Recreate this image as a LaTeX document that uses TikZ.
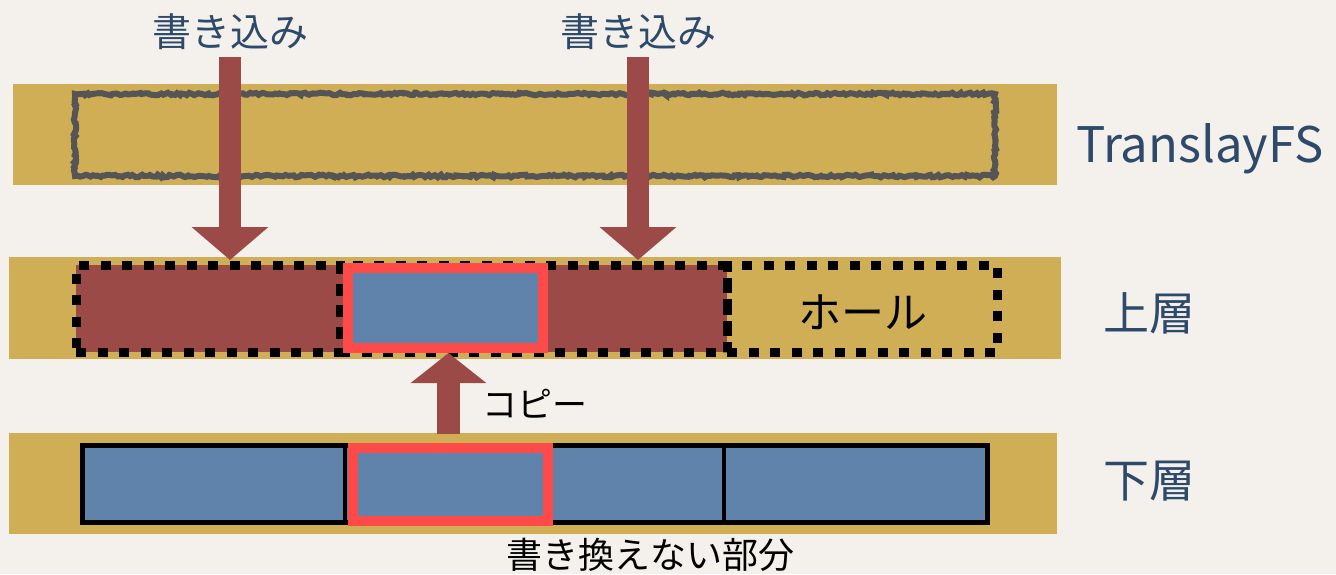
\documentclass[tikz,border=0pt]{standalone}
\usepackage{fontspec}
\setmainfont{Noto Sans CJK JP}
\usetikzlibrary{arrows.meta,decorations.pathmorphing}
\definecolor{bg}{HTML}{F4F1EC}
\definecolor{gold}{HTML}{CFAE55}
\definecolor{wine}{HTML}{9C4A48}
\definecolor{steel}{HTML}{5F83AA}
\definecolor{hot}{HTML}{FF4A4A}
\definecolor{ink}{HTML}{2E4A6A}
\definecolor{pencil}{HTML}{555555}
\begin{document}
\begin{tikzpicture}[x=1pt,y=-1pt,
  bar/.style={fill=gold, draw=none, inner sep=0pt, outer sep=0pt},
  rough/.style={draw=pencil, line width=6pt, inner sep=0pt, outer sep=0pt,
    decorate, decoration={random steps, segment length=2.5pt, amplitude=1.3pt}},
  dotbox/.style={draw=black, line width=9pt, dash pattern=on 10pt off 11.5pt, inner sep=0pt, outer sep=0pt},
  redfill/.style={fill=wine, draw=none, inner sep=0pt, outer sep=0pt},
  keep/.style={fill=steel, draw=hot, line width=10pt, inner sep=0pt},
  cell/.style={fill=steel, draw=black, line width=5pt, inner sep=0pt, outer sep=0pt},
  fat/.style={draw=wine, line width=22pt, -{Triangle[width=75pt,length=33pt]}},
  lbl/.style={text=ink, inner sep=0pt, font=\fontsize{39pt}{39pt}\selectfont},
  side/.style={text=ink, inner sep=0pt, font=\fontsize{46pt}{46pt}\selectfont},
  note/.style={text=black, inner sep=0pt},
]
\fill[bg] (0,0) rectangle (1336,574);
\useasboundingbox (0,0) rectangle (1336,574);

% layer bars
\node[bar, minimum width=1044pt, minimum height=101pt] (tbar) at (535,134.5) {};
\node[bar, minimum width=1052pt, minimum height=102pt] (ubar) at (535,308) {};
\node[bar, minimum width=1048pt, minimum height=101pt] (lbar) at (533,483.5) {};

% TranslayFS rough box
\pgfmathsetseed{7}
\node[rough, minimum width=920pt, minimum height=82pt] (fsbox) at (535,135) {};

% upper layer
\node[redfill, minimum width=651pt, minimum height=87pt] (wr) at (401.5,308.5) {};
\node[dotbox, minimum width=264pt, minimum height=87pt] (da) at (208,308.5) {};
\node[dotbox, minimum width=387pt, minimum height=87pt] (db) at (533.5,308.5) {};
\node[dotbox, minimum width=270pt, minimum height=87pt] (hole) at (862,308.5) {};
\node[keep, minimum width=195pt, minimum height=80pt] (ublue) at (445.5,308) {};
\node[note, font=\fontsize{43pt}{43pt}\selectfont] (holet) at (863,312) {ホール};

% lower layer
\node[cell, minimum width=905pt, minimum height=77pt] (lrow) at (535,484) {};
\coordinate (d1) at (345,445.5);
\coordinate (d2) at (724,445.5);
\draw[black, line width=4pt] (d1) -- (d1 |- lrow.south);
\draw[black, line width=4pt] (d2) -- (d2 |- lrow.south);
\node[keep, minimum width=195pt, minimum height=73pt] (lblue) at (450.5,484.5) {};

% write labels and arrows
\node[lbl] (w1) at (230,32) {書き込み};
\node[lbl] (w2) at (638,32) {書き込み};
\coordinate (w1s) at (230,57);
\coordinate (w2s) at (638,57);
\draw[fat] (w1s) -- ([yshift=-3pt]w1s |- ubar.north);
\draw[fat] (w2s) -- ([yshift=-3pt]w2s |- ubar.north);

% copy arrow
\coordinate (cp) at (448.5,434);
\draw[draw=wine, line width=23pt, -{Triangle[width=74pt,length=30pt]}] (cp) -- (cp |- ublue.south);
\node[note, font=\fontsize{35pt}{35pt}\selectfont] (copyt) at (535,404) {コピー};

% side labels
\node[text=ink, inner sep=0pt, anchor=base west, font=\fontsize{49pt}{49pt}\selectfont] (fsl) at (1076,162) {TranslayFS};
\node[side] (ul) at (1149,313) {上層};
\node[side] (ll) at (1149,481) {下層};

% bottom caption
\node[note, font=\fontsize{36pt}{36pt}\selectfont, anchor=north] (cap) at (650,538) {書き換えない部分};
\end{tikzpicture}
\end{document}
